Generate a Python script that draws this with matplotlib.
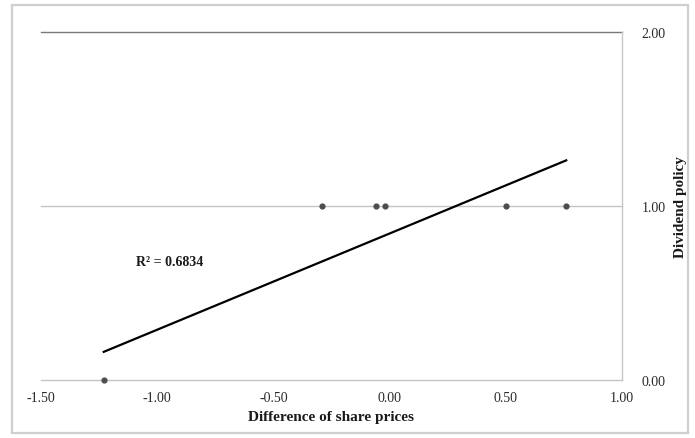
import matplotlib
matplotlib.use("Agg")
import matplotlib.pyplot as plt
from matplotlib.patches import Rectangle
import numpy as np

# Observations: difference of share prices vs. dividend policy (0/1)
share_price_diff = [-1.23, -0.29, -0.06, -0.02, 0.50, 0.76]
dividend_policy = [0, 1, 1, 1, 1, 1]

# Linear trendline coefficients and fit quality
trend_slope = 0.553
trend_intercept = 0.842
r_squared = 0.6834

x_ticks = [-1.50, -1.00, -0.50, 0.00, 0.50, 1.00]
y_ticks = [0.00, 1.00, 2.00]

plt.rcParams["font.family"] = ["Liberation Serif", "DejaVu Serif"]

fig = plt.figure(figsize=(6.95, 4.39), dpi=100)
fig.patch.set_facecolor("white")

# light frame around the whole chart
fig.patches.append(Rectangle((12 / 695, 1 - 434 / 439), 676 / 695, 428 / 439,
                             transform=fig.transFigure, fill=False,
                             edgecolor="#cfcfcf", linewidth=1.6, zorder=0))

ax = fig.add_axes([41 / 695, 1 - 381 / 439, 581 / 695, 348 / 439])
ax.set_xlim(-1.5, 1.0)
ax.set_ylim(0, 2)

# gridlines
for yv in y_ticks:
    col = "#7a7a7a" if yv == max(y_ticks) else "#c4c4c4"
    ax.axhline(yv, color=col, linewidth=1.0, zorder=1, clip_on=False)

for side in ["left", "top", "bottom"]:
    ax.spines[side].set_visible(False)
ax.spines["right"].set_color("#c8c8c8")
ax.spines["right"].set_linewidth(1.0)

ax.scatter(share_price_diff, dividend_policy, s=12, color="#4d4d4d", zorder=3,
           clip_on=False)

xs = np.array([min(share_price_diff), max(share_price_diff)])
ax.plot(xs, trend_slope * xs + trend_intercept, color="black", linewidth=1.6, zorder=4)

ax.text(-1.09, 0.68, f"R² = {r_squared:.4f}", fontsize=10, fontweight="bold",
        color="#1a1a1a", ha="left", va="center")

ax.set_xticks(x_ticks)
ax.set_xticklabels([f"{v:.2f}" for v in x_ticks])
ax.set_yticks(y_ticks)
ax.set_yticklabels([f"{v:.2f}" for v in y_ticks])
ax.yaxis.tick_right()
ax.yaxis.set_label_position("right")
ax.tick_params(axis="x", length=0, pad=8, labelsize=10, labelcolor="#2a2a2a")
ax.tick_params(axis="y", length=0, pad=14, labelsize=10, labelcolor="#2a2a2a")

ax.set_xlabel("Difference of share prices", fontsize=11, fontweight="bold",
              color="#1a1a1a", labelpad=4)
ax.set_ylabel("Dividend policy", fontsize=11, fontweight="bold",
              color="#1a1a1a", labelpad=6)

fig.savefig("out.png", dpi=100, facecolor="white")
